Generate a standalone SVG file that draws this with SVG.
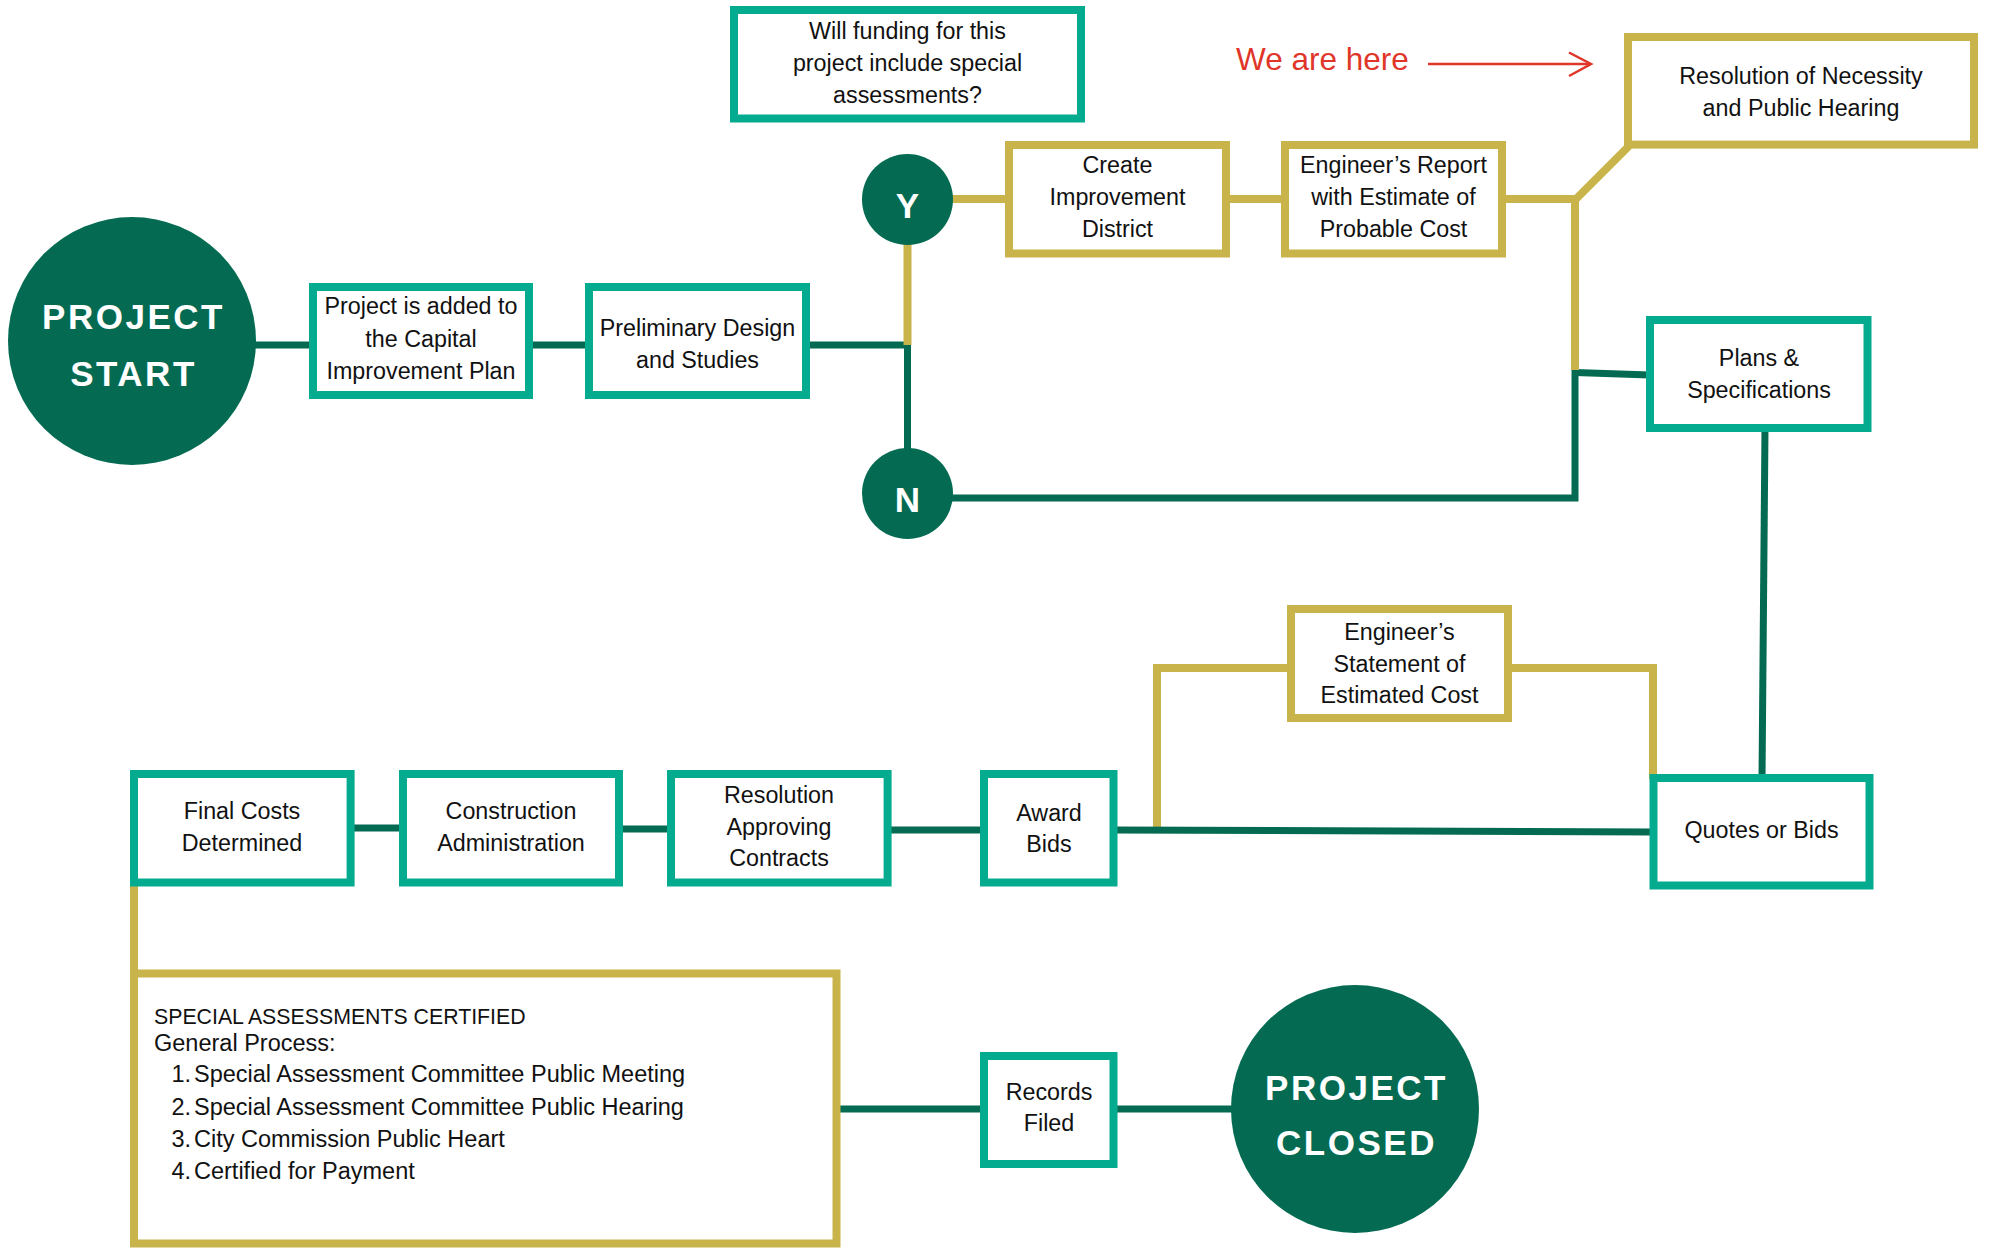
<svg xmlns="http://www.w3.org/2000/svg" width="1992" height="1249" viewBox="0 0 1992 1249">
<style>
.bg{fill:#ffffff}
.dk{fill:none;stroke:#046B52;stroke-width:7;stroke-linejoin:miter}
.gd{fill:none;stroke:#C9B44B;stroke-width:8;stroke-linejoin:miter}
.bt{fill:#ffffff;stroke:#05AB8E;stroke-width:8}
.bg8{fill:#ffffff;stroke:#C9B44B;stroke-width:8}
.circ{fill:#046B52}
.t{font-family:"Liberation Sans",Arial,sans-serif;font-size:23.3px;fill:#111111;text-anchor:middle}
.tl{font-family:"Liberation Sans",Arial,sans-serif;font-size:23.5px;fill:#111111}
.big{font-family:"Liberation Sans",Arial,sans-serif;font-size:35px;font-weight:bold;fill:#ffffff;text-anchor:middle;letter-spacing:2.5px}
.yn{font-family:"Liberation Sans",Arial,sans-serif;font-size:35px;font-weight:bold;fill:#ffffff;text-anchor:middle}
.red{font-family:"Liberation Sans",Arial,sans-serif;font-size:31.5px;fill:#E0362A}
</style>
<rect class="bg" x="0" y="0" width="1992" height="1249"/>

<g id="connectors">
  <line class="dk" x1="250" y1="345" x2="315" y2="345"/>
  <line class="dk" x1="529" y1="345" x2="590" y2="345"/>
  <polyline class="dk" points="806,345 907.5,345 907.5,450"/>
  <polyline class="gd" points="907.5,240 907.5,345"/>
  <polyline class="dk" points="950,498 1575,498 1575,368"/>
  <polyline class="dk" points="1575,372.5 1650,375"/>
  <line class="gd" x1="950" y1="199" x2="1010" y2="199"/>
  <line class="gd" x1="1226" y1="199" x2="1286" y2="199"/>
  <polyline class="gd" points="1502,199 1575,199 1575,370"/>
  <line class="gd" x1="1575" y1="200" x2="1629" y2="146"/>
  <line class="dk" x1="1765" y1="428" x2="1762" y2="779"/>
  <polyline class="gd" points="1291,668 1157,668 1157,828"/>
  <polyline class="gd" points="1508,668 1653,668 1653,779"/>
  <polyline class="dk" points="1113,830 1400,831 1654,832"/>
  <line class="dk" x1="887" y1="830" x2="985" y2="830"/>
  <line class="dk" x1="619" y1="829" x2="672" y2="829"/>
  <line class="dk" x1="350" y1="828" x2="404" y2="828"/>
  <line class="gd" x1="134" y1="880" x2="134" y2="976"/>
  <line class="dk" x1="836" y1="1109" x2="985" y2="1109"/>
  <line class="dk" x1="1113" y1="1109" x2="1240" y2="1109"/>
</g>

<g id="project-start">
  <circle class="circ" cx="132" cy="341" r="124"/>
  <text class="big" x="133.5" y="329">PROJECT</text>
  <text class="big" x="133.5" y="386">START</text>
</g>

<g id="capital-plan">
  <rect class="bt" x="313" y="287" width="216" height="108"/>
  <text class="t" x="421" y="314">Project is added to</text>
  <text class="t" x="421" y="346.5">the Capital</text>
  <text class="t" x="421" y="378.5">Improvement Plan</text>
</g>

<g id="preliminary-design">
  <rect class="bt" x="589" y="287" width="217" height="108"/>
  <text class="t" x="697.5" y="336">Preliminary Design</text>
  <text class="t" x="697.5" y="367.5">and Studies</text>
</g>

<g id="question">
  <rect class="bt" x="734" y="10" width="347" height="108.5"/>
  <text class="t" x="907.5" y="38.5">Will funding for this</text>
  <text class="t" x="907.5" y="70.5">project include special</text>
  <text class="t" x="907.5" y="102.5">assessments?</text>
</g>

<g id="yes">
  <circle class="circ" cx="907.5" cy="199.5" r="45.5"/>
  <text class="yn" x="907.5" y="217.5">Y</text>
</g>

<g id="no">
  <circle class="circ" cx="907.5" cy="493.5" r="45.5"/>
  <text class="yn" x="907.5" y="512">N</text>
</g>

<g id="create-district">
  <rect class="bg8" x="1009" y="145" width="217" height="108.5"/>
  <text class="t" x="1117.5" y="173">Create</text>
  <text class="t" x="1117.5" y="205">Improvement</text>
  <text class="t" x="1117.5" y="236.5">District</text>
</g>

<g id="engineers-report">
  <rect class="bg8" x="1285" y="145" width="217" height="108.5"/>
  <text class="t" x="1393.5" y="173">Engineer’s Report</text>
  <text class="t" x="1393.5" y="205">with Estimate of</text>
  <text class="t" x="1393.5" y="236.5">Probable Cost</text>
</g>

<g id="we-are-here">
  <text class="red" x="1236" y="70">We are here</text>
  <line x1="1428" y1="64" x2="1590" y2="64" stroke="#E0362A" stroke-width="2.5"/>
  <polyline points="1569,52.5 1591,64 1569,76" fill="none" stroke="#E0362A" stroke-width="2.5"/>
</g>

<g id="resolution-necessity">
  <rect class="bg8" x="1628" y="37" width="346" height="107.6"/>
  <text class="t" x="1801" y="84">Resolution of Necessity</text>
  <text class="t" x="1801" y="116">and Public Hearing</text>
</g>

<g id="plans-specs">
  <rect class="bt" x="1650" y="320" width="217.5" height="108"/>
  <text class="t" x="1759" y="366">Plans &amp;</text>
  <text class="t" x="1759" y="397.5">Specifications</text>
</g>

<g id="engineers-statement">
  <rect class="bg8" x="1291" y="609" width="217" height="109"/>
  <text class="t" x="1399.5" y="640">Engineer’s</text>
  <text class="t" x="1399.5" y="671.5">Statement of</text>
  <text class="t" x="1399.5" y="703">Estimated Cost</text>
</g>

<g id="quotes-bids">
  <rect class="bt" x="1653.5" y="778" width="216" height="107.5"/>
  <text class="t" x="1761.5" y="837.5">Quotes or Bids</text>
</g>

<g id="award-bids">
  <rect class="bt" x="984" y="774" width="129.5" height="108.5"/>
  <text class="t" x="1049" y="821">Award</text>
  <text class="t" x="1049" y="852">Bids</text>
</g>

<g id="resolution-contracts">
  <rect class="bt" x="671" y="774" width="216.6" height="108.5"/>
  <text class="t" x="779" y="803">Resolution</text>
  <text class="t" x="779" y="835">Approving</text>
  <text class="t" x="779" y="866">Contracts</text>
</g>

<g id="construction-admin">
  <rect class="bt" x="403" y="774" width="216" height="108.5"/>
  <text class="t" x="511" y="819">Construction</text>
  <text class="t" x="511" y="851">Administration</text>
</g>

<g id="final-costs">
  <rect class="bt" x="134" y="774" width="216.6" height="108.5"/>
  <text class="t" x="242" y="819">Final Costs</text>
  <text class="t" x="242" y="851">Determined</text>
</g>

<g id="special-assessments">
  <rect class="bg8" x="134" y="973.5" width="702.5" height="270"/>
  <text class="tl" x="154" y="1023.5" style="font-size:21.3px">SPECIAL ASSESSMENTS CERTIFIED</text>
  <text class="tl" x="154" y="1051">General Process:</text>
  <text class="tl" x="191" y="1082" text-anchor="end">1.</text>
  <text class="tl" x="194" y="1082">Special Assessment Committee Public Meeting</text>
  <text class="tl" x="191" y="1114.5" text-anchor="end">2.</text>
  <text class="tl" x="194" y="1114.5">Special Assessment Committee Public Hearing</text>
  <text class="tl" x="191" y="1146.5" text-anchor="end">3.</text>
  <text class="tl" x="194" y="1146.5">City Commission Public Heart</text>
  <text class="tl" x="191" y="1178.5" text-anchor="end">4.</text>
  <text class="tl" x="194" y="1178.5">Certified for Payment</text>
</g>

<g id="records-filed">
  <rect class="bt" x="984" y="1056" width="129.5" height="108"/>
  <text class="t" x="1049" y="1099.5">Records</text>
  <text class="t" x="1049" y="1131">Filed</text>
</g>

<g id="project-closed">
  <circle class="circ" cx="1355" cy="1109" r="124"/>
  <text class="big" x="1356.5" y="1099.5">PROJECT</text>
  <text class="big" x="1356.5" y="1154.5">CLOSED</text>
</g>
</svg>
